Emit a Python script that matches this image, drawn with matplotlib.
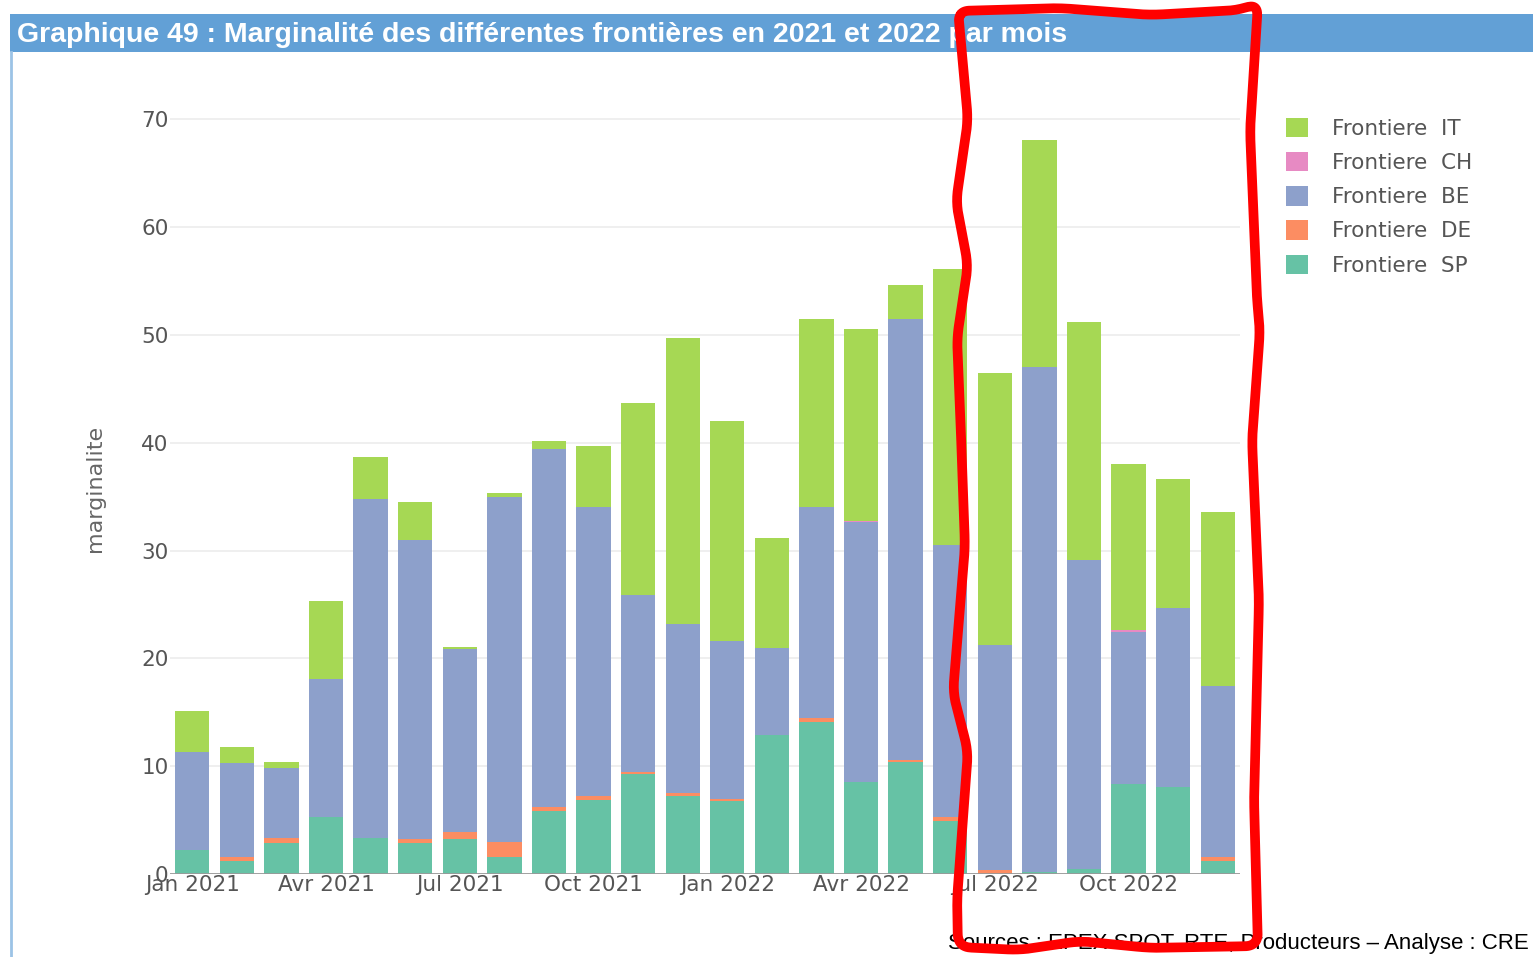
import matplotlib
matplotlib.use("Agg")
import matplotlib.pyplot as plt
from matplotlib.patches import Rectangle, Patch
from matplotlib.lines import Line2D
import numpy as np

months = ["Jan 2021", "Fev 2021", "Mar 2021", "Avr 2021", "Mai 2021", "Jun 2021",
          "Jul 2021", "Aou 2021", "Sep 2021", "Oct 2021", "Nov 2021", "Dec 2021",
          "Jan 2022", "Fev 2022", "Mar 2022", "Avr 2022", "Mai 2022", "Jun 2022",
          "Jul 2022", "Aou 2022", "Sep 2022", "Oct 2022", "Nov 2022", "Dec 2022"]

sp = [2.2, 1.25, 2.9, 5.25, 3.3, 2.9, 3.25, 1.55, 5.85, 6.85, 9.25, 7.25,
      6.75, 12.9, 14.1, 8.5, 10.35, 4.95, 0.0, 0.2, 0.45, 8.3, 8.1, 1.25]
de = [0.0, 0.3, 0.4, 0.0, 0.0, 0.3, 0.6, 1.45, 0.35, 0.4, 0.25, 0.25,
      0.2, 0.0, 0.4, 0.0, 0.25, 0.3, 0.35, 0.0, 0.0, 0.0, 0.0, 0.3]
be = [9.15, 8.7, 6.55, 12.8, 31.5, 27.75, 17.0, 31.95, 33.2, 26.75, 16.35, 15.65,
      14.7, 8.05, 19.5, 24.1, 40.9, 25.3, 20.9, 46.8, 28.65, 14.1, 16.6, 15.85]
ch = [0.0, 0.0, 0.0, 0.0, 0.0, 0.0, 0.0, 0.0, 0.0, 0.0, 0.0, 0.0,
      0.0, 0.0, 0.0, 0.15, 0.0, 0.0, 0.0, 0.0, 0.0, 0.25, 0.0, 0.0]
it = [3.75, 1.5, 0.55, 7.25, 3.85, 3.55, 0.2, 0.4, 0.8, 5.7, 17.85, 26.55,
      20.35, 10.25, 17.5, 17.8, 3.1, 25.6, 25.25, 21.1, 22.1, 15.4, 11.9, 16.2]

tick_labels = ["Jan 2021", "Avr 2021", "Jul 2021", "Oct 2021",
               "Jan 2022", "Avr 2022", "Jul 2022", "Oct 2022"]

series = [("Frontiere  SP", sp, "#66c2a5"),
          ("Frontiere  DE", de, "#fc8d62"),
          ("Frontiere  BE", be, "#8da0cb"),
          ("Frontiere  CH", ch, "#e78ac3"),
          ("Frontiere  IT", it, "#a6d854")]

W, H = 1533, 957
fig = plt.figure(figsize=(W / 100, H / 100), dpi=100)

# title band and frame
fig.patches.append(Rectangle((10 / W, 1 - 52 / H), 1, 38 / H, transform=fig.transFigure,
                             facecolor="#62a0d6", edgecolor="none", zorder=0))
fig.lines.append(Line2D([11 / W, 11 / W], [0, 1 - 52 / H], transform=fig.transFigure,
                        color="#9cc3e6", lw=2))
fig.text(17 / W, 1 - 35 / H,
         "Graphique 49 : Marginalité des différentes frontières en 2021 et 2022 par mois",
         color="white", fontsize=20.5, fontweight="bold", va="center", ha="left",
         family="Liberation Sans")

ax = fig.add_axes([170 / W, 1 - 874 / H, 1070 / W, 771 / H])
x = np.arange(len(months))
bottom = np.zeros(len(months))
for name, vals, col in series:
    ax.bar(x, vals, 0.77, bottom=bottom, color=col, label=name, zorder=2)
    bottom += np.array(vals)

ax.set_xlim(-0.5, len(months) - 0.5)
ax.set_ylim(0, 71.5)
ax.set_yticks(range(0, 80, 10))
ax.grid(axis="y", color="#ececec", lw=1.2, zorder=0)
ax.axhline(0, color="#999999", lw=2, zorder=3)
for s in ax.spines.values():
    s.set_visible(False)
ax.set_xticks([months.index(m) for m in tick_labels])
ax.set_xticklabels(tick_labels)
ax.tick_params(axis="both", length=0, labelsize=15.5, colors="#555555")
ax.tick_params(axis="x", pad=1)
ax.tick_params(axis="y", pad=1)
ax.set_ylabel("marginalite", fontsize=16, color="#666666", labelpad=26)

handles = [Patch(facecolor=c, edgecolor="none") for _, _, c in series][::-1]
labels = [n for n, _, _ in series][::-1]
fig.legend(handles, labels, loc="upper left", bbox_to_anchor=(1286 / W, 1 - 118 / H),
           frameon=False, fontsize=15.5, handlelength=1.0, handleheight=1.0,
           handletextpad=1.15, labelspacing=0.61, labelcolor="#555555",
           borderpad=0, borderaxespad=0)

fig.text(948 / W, 1 - 943 / H, "Sources : EPEX SPOT, RTE, Producteurs – Analyse : CRE",
         fontsize=16, color="black", va="center", ha="left", family="Liberation Sans")

# hand-drawn red highlight (smoothed wavy outline)
red_px = [(958, 11), (1060, 8), (1150, 15), (1240, 10), (1258, 3), (1250, 130),
          (1257, 300), (1260, 330), (1252, 440), (1259, 600), (1254, 800), (1258, 946),
          (1150, 948), (1080, 941), (1020, 950), (958, 947), (957, 900), (968, 751),
          (953, 693), (965, 547), (961, 435), (957, 338), (968, 265), (956, 202),
          (968, 120), (958, 11)]
pts = np.array(red_px, dtype=float)
seg = np.hypot(*np.diff(pts, axis=0).T)
t = np.concatenate([[0], np.cumsum(seg)])
tt = np.linspace(0, t[-1], 1500)
px = np.interp(tt, t, pts[:, 0])
py = np.interp(tt, t, pts[:, 1])
k = 16
kern = np.ones(k) / k
px_s = np.convolve(np.concatenate([px[-k:], px, px[:k]]), kern, mode="same")[k:-k]
py_s = np.convolve(np.concatenate([py[-k:], py, py[:k]]), kern, mode="same")[k:-k]
fig.lines.append(Line2D(px_s / W, 1 - py_s / H, transform=fig.transFigure, color="#ff0000",
                        lw=7, solid_joinstyle="round", solid_capstyle="round", zorder=10))

fig.savefig("out.png", dpi=100)
